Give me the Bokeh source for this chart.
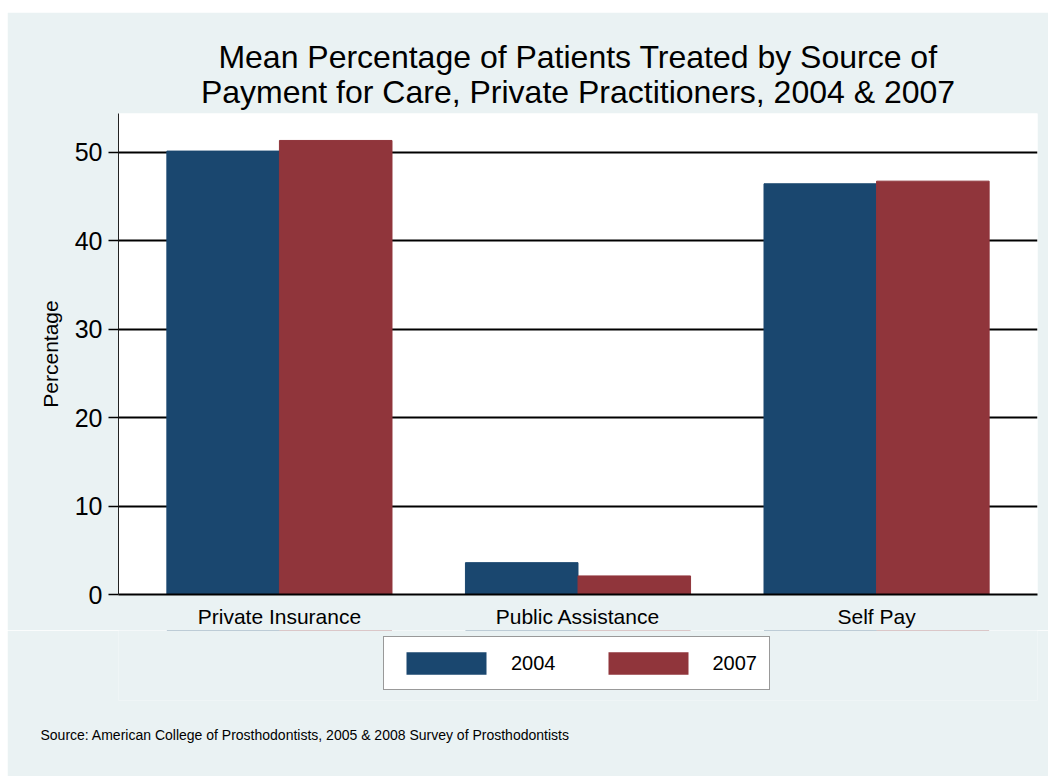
from bokeh.plotting import figure
from bokeh.layouts import column
from bokeh.models import (FactorRange, Range1d, FixedTicker, Legend, LegendItem,
                          Title, ColumnDataSource)
from bokeh.transform import dodge
from bokeh.embed import file_html
from bokeh.resources import INLINE

categories = ["Private Insurance", "Public Assistance", "Self Pay"]
years = ["2004", "2007"]
v2004 = [50.15, 3.6, 46.45]
v2007 = [51.35, 2.1, 46.75]
y_ticks = [0, 10, 20, 30, 40, 50]

title_line1 = "Mean Percentage of Patients Treated by Source of"
title_line2 = "Payment for Care, Private Practitioners, 2004 & 2007"
source_text = "Source: American College of Prosthodontists, 2005 & 2008 Survey of Prosthodontists"
y_label = "Percentage"

BG = "#EAF2F3"
NAVY = "#1A476F"
MAROON = "#90353B"
FONT = "Liberation Sans"

src = ColumnDataSource(dict(cat=categories, y2004=v2004, y2007=v2007))
xr = FactorRange(*categories, range_padding=0.039, range_padding_units="absolute")
bw = 0.377

# ---------------- main chart ----------------
p = figure(frame_width=919, frame_height=481, output_backend="svg", toolbar_location=None,
           x_range=xr, y_range=Range1d(0, 54.4),
           min_border_left=111, min_border_right=11,
           min_border_top=101, min_border_bottom=36)
p.border_fill_color = BG
p.background_fill_color = "white"
p.outline_line_color = None

r1 = p.vbar(x=dodge("cat", -bw / 2, range=xr), top="y2004", width=bw,
            source=src, fill_color=NAVY, line_color=NAVY)
r2 = p.vbar(x=dodge("cat", bw / 2, range=xr), top="y2007", width=bw,
            source=src, fill_color=MAROON, line_color=MAROON)

# title (two centred lines; the first added sits closest to the frame)
p.title = None
t2 = Title(text=title_line2, align="center", text_font=FONT, text_font_size="32px",
           text_font_style="normal", text_color="black", standoff=7)
p.add_layout(t2, "above")
t1 = Title(text=title_line1, align="center", text_font=FONT, text_font_size="32px",
           text_font_style="normal", text_color="black", standoff=-12)
p.add_layout(t1, "above")

# axes
xa = p.xaxis[0]
xa.axis_line_color = "black"
xa.axis_line_width = 2
xa.major_tick_line_color = None
xa.minor_tick_line_color = None
xa.major_label_text_font = FONT
xa.major_label_text_font_size = "21px"
xa.major_label_text_color = "black"
xa.major_label_standoff = 4

ya = p.yaxis[0]
ya.ticker = FixedTicker(ticks=y_ticks)
ya.axis_line_color = "#222222"
ya.axis_line_width = 1
ya.major_tick_line_color = "black"
ya.major_tick_line_width = 1.5
ya.major_tick_out = 10
ya.major_tick_in = 0
ya.minor_tick_line_color = None
ya.major_label_text_font = FONT
ya.major_label_text_font_size = "25px"
ya.major_label_text_color = "black"
ya.major_label_standoff = 6
ya.axis_label = y_label
ya.axis_label_text_font = FONT
ya.axis_label_text_font_size = "21px"
ya.axis_label_text_font_style = "normal"
ya.axis_label_text_color = "black"
ya.axis_label_standoff = 10

p.xgrid.grid_line_color = None
p.ygrid.ticker = FixedTicker(ticks=y_ticks)
p.ygrid.grid_line_color = "black"
p.ygrid.grid_line_width = 2

# ---------------- legend + source strip ----------------
# the strip's y range lies below zero, so the key series are clipped away
q = figure(frame_width=919, frame_height=70, output_backend="svg", toolbar_location=None,
           x_range=xr, y_range=Range1d(-2, -1),
           x_axis_type=None, y_axis_type=None,
           min_border_left=111, min_border_right=11,
           min_border_top=0, min_border_bottom=76)
q.title = None
q.border_fill_color = BG
q.background_fill_color = BG
q.outline_line_color = None
q.grid.visible = False

k1 = q.vbar(x=dodge("cat", -bw / 2, range=xr), top="y2004", width=bw, source=src,
            fill_color=NAVY, line_color=None)
k2 = q.vbar(x=dodge("cat", bw / 2, range=xr), top="y2007", width=bw, source=src,
            fill_color=MAROON, line_color=None)

legend = Legend(items=[LegendItem(label=years[0], renderers=[k1]),
                       LegendItem(label=years[1], renderers=[k2])],
                orientation="horizontal", location=(265, 10),
                glyph_width=100, glyph_height=28, label_standoff=15,
                spacing=42, padding=12, margin=0,
                label_text_font=FONT, label_text_font_size="20px",
                label_text_color="black",
                border_line_color="#333333", border_line_width=1.5,
                background_fill_color="white", background_fill_alpha=1.0)
q.add_layout(legend, "center")

st = Title(text=source_text, align="left", offset=-78, text_font=FONT,
           text_font_size="14px", text_font_style="normal", text_color="black",
           standoff=49)
q.add_layout(st, "below")

layout = column(p, q, spacing=0)
layout.margin = (12, 0, 0, 7)

open("out.html", "w").write(file_html(layout, INLINE))
